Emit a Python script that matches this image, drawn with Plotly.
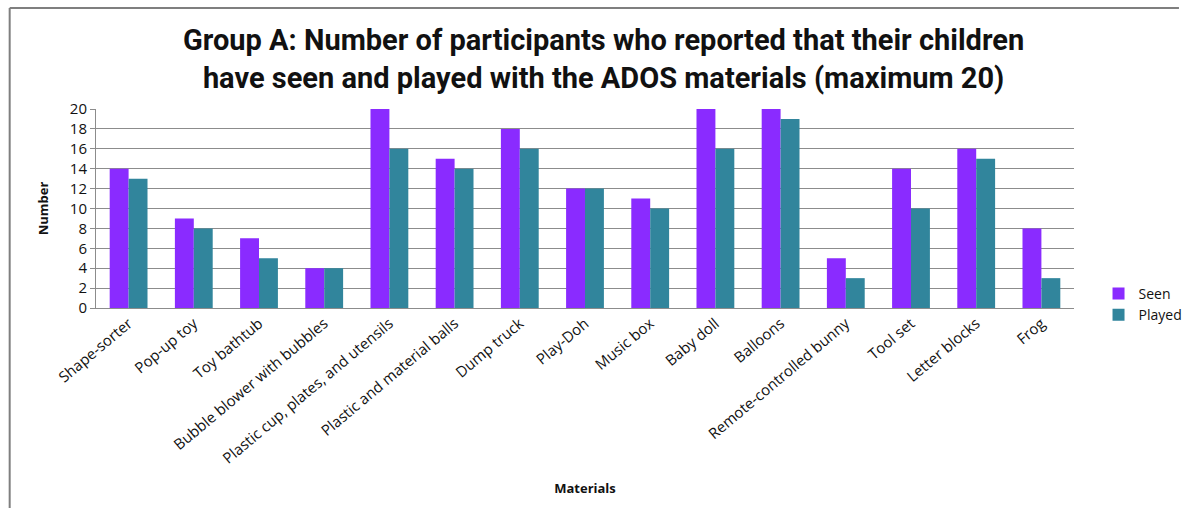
import plotly.graph_objects as go

materials = ["Shape-sorter", "Pop-up toy", "Toy bathtub", "Bubble blower with bubbles",
             "Plastic cup, plates, and utensils", "Plastic and material balls", "Dump truck",
             "Play-Doh", "Music box", "Baby doll", "Balloons", "Remote-controlled bunny",
             "Tool set", "Letter blocks", "Frog"]
seen = [14, 9, 7, 4, 20, 15, 18, 12, 11, 20, 20, 5, 14, 16, 8]
played = [13, 8, 5, 4, 16, 14, 16, 12, 10, 16, 19, 3, 10, 15, 3]

W, H = 1200, 508
L, R, T, B = 96, 107, 109, 200
pw, ph = W - L - R, H - T - B

font_main = "Roboto, Open Sans, sans-serif"
font_tick = "Open Sans, Noto Sans, sans-serif"

fig = go.Figure()
fig.add_trace(go.Bar(name="Seen", x=materials, y=seen, marker_color="#8A2BFF", marker_line_width=0))
fig.add_trace(go.Bar(name="Played", x=materials, y=played, marker_color="#31859C", marker_line_width=0))

def px_x(x):
    return (x - L) / pw

def px_y(y):
    return 1 - (y - T) / ph

fig.update_layout(
    width=W, height=H,
    margin=dict(l=L, r=R, t=T, b=B),
    paper_bgcolor="white", plot_bgcolor="white",
    barmode="group", bargap=0.42, bargroupgap=0,
    title=dict(
        text="<b>Group A: Number of participants who reported that their children<br>have seen and played with the ADOS materials (maximum 20)</b>",
        x=0.503, xanchor="center", y=1 - 50 / H, yanchor="middle",
        font=dict(family=font_main, size=29, color="#111111"),
    ),
    yaxis=dict(
        range=[0, 20], dtick=2, showgrid=True, gridcolor="#8c8c8c", gridwidth=1,
        showline=True, linecolor="#8c8c8c", linewidth=1, ticks="outside", ticklen=5, tickcolor="#8c8c8c",
        tickfont=dict(family=font_tick, size=15, color="#111111"),
        title=dict(text="<b>Number</b>", font=dict(family=font_tick, size=13, color="#111111"), standoff=18),
        zeroline=False,
    ),
    xaxis=dict(
        showline=True, linecolor="#8c8c8c", linewidth=1, ticks="", tickangle=-40,
        tickfont=dict(family=font_tick, size=15, color="#111111"),
        title=dict(text="<b>Materials</b>", font=dict(family=font_tick, size=13, color="#111111"), standoff=17),
    ),
    legend=dict(
        x=px_x(1118), y=px_y(278), xanchor="left", yanchor="top",
        font=dict(family=font_tick, size=14, color="#111111"),
        tracegroupgap=16, itemwidth=30,
    ),
    shapes=[
        dict(type="line", xref="paper", yref="paper",
             x0=px_x(8), x1=px_x(1200), y0=px_y(8), y1=px_y(8),
             line=dict(color="#7f7f7f", width=2), layer="below"),
        dict(type="line", xref="paper", yref="paper",
             x0=px_x(8), x1=px_x(8), y0=px_y(8), y1=px_y(508),
             line=dict(color="#7f7f7f", width=2), layer="below"),
    ],
)

fig.write_html("out.html")
